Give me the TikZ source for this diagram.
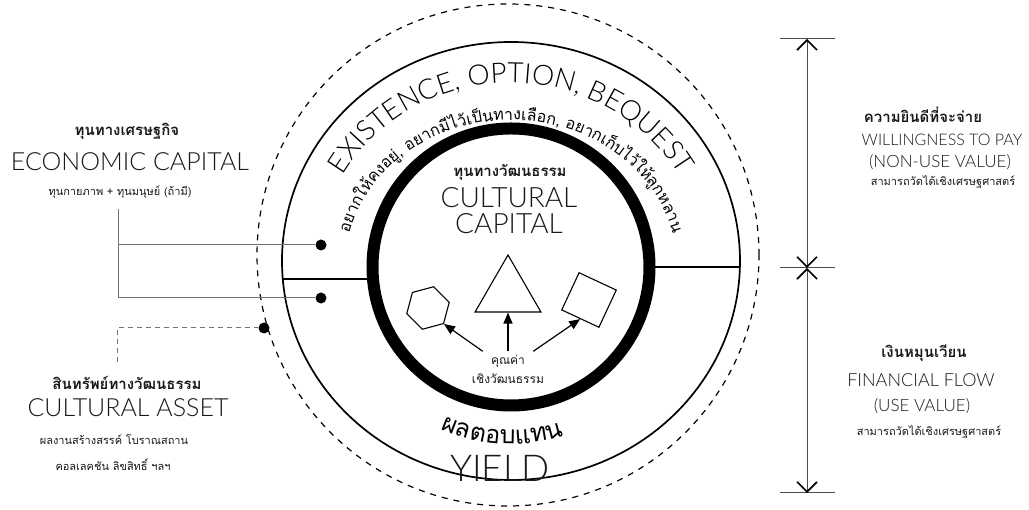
\documentclass[tikz,border=0pt]{standalone}
\usepackage{fontspec}
\setmainfont{Lato Light}
\newfontfamily\thaifont[Script=Thai]{Loma}
\usetikzlibrary{arrows.meta,shapes.geometric,decorations.text}

\tikzset{
  thead/.style={font=\thaifont\bfseries\fontsize{15}{18}\selectfont},
  tnote/.style={font=\thaifont\fontsize{11}{14}\selectfont},
  capbig/.style={font=\fontsize{25}{28}\selectfont},
  capmid/.style={font=\fontsize{17}{21}\selectfont},
  dot/.style={circle,fill,inner sep=0,minimum size=11},
  feed/.style={draw=black!55,line width=1},
  valarrow/.style={-{Triangle[length=11pt,width=9pt]},line width=1.2},
  figure/.style={draw,regular polygon,inner sep=0,line width=1.1},
  arctext/.style={decorate,decoration={text along path,text align=center,text={#1}}}
}

\begin{document}
\begin{tikzpicture}[x=1pt,y=1pt,>={Straight Barb[length=10pt,width=20pt,line width=1.6pt,color=black]},text=black!90]
\useasboundingbox (0,0) rectangle (1029,510);

% rings
\node[circle,draw,dashed,dash pattern=on 6pt off 6pt,line width=1.2,minimum size=502,inner sep=0,outer sep=0] (halo) at (508,255) {};
\node[ellipse,draw,line width=1.7,minimum width=458,minimum height=438,inner sep=0,outer sep=0] (ring) at (511,249) {};
\node[circle,draw,line width=12,minimum size=277,inner sep=0,outer sep=0] (core) at (511,243) {};
\draw[line width=1.7] (core.185) -- (core.185 -| ring.west);
\draw[line width=1.7] (core.east) -- (core.east -| ring.east);

% texts on the arcs
\path[arctext={|\fontsize{28}{30}\selectfont|EXISTENCE, OPTION, BEQUEST}]
  (core.center) ++(160:{194 and 184}) arc[start angle=160,end angle=20,x radius=194,y radius=184];
\path[arctext={|\thaifont\fontsize{16}{18}\selectfont|อยากใ{ห้}คงอ{ยู่}, อยาก{มี}ไ{ว้}เ{ป็}นทางเ{ลื}อก, อยากเ{ก็}บไ{ว้}ใ{ห้}{ลู}กหลาน}]
  (core.center) ++(190:{166 and 147}) arc[start angle=190,end angle=-10,x radius=166,y radius=147];
\path[arctext={|\thaifont\fontsize{25}{30}\selectfont|ผลตอบแทน}]
  (core.center) ++(217:177) arc[start angle=217,end angle=317,radius=177];
\node[font=\fontsize{37}{40}\selectfont] (yield) at (500,42) {YIELD};

% inside the core
\node[thead] (ccth) at (510,338) {ทุนทางวัฒนธรรม};
\node[align=center,font=\fontsize{28}{26}\selectfont] (cc) at (509,299) {CULTURAL\\CAPITAL};
\node[figure,regular polygon sides=3,minimum size=76] (tri) at (508,217) {};
\node[figure,regular polygon sides=6,minimum size=44,rotate=15] (hexa) at (428,202) {};
\node[figure,regular polygon sides=4,minimum size=58,rotate=-25] (sq) at (589,210) {};
\node[align=center,font=\thaifont\fontsize{12}{19}\selectfont] (valuelbl) at (508,141) {คุณค่า\\เชิงวัฒนธรรม};
\draw[valarrow] (valuelbl.north) -- (tri.south);
\draw[valarrow] (valuelbl.145) -- (hexa.300);
\draw[valarrow] (valuelbl.35) -- (sq.south);

% left side
\node[thead] (econth) at (127,379) {ทุนทางเศรษฐกิจ};
\node[capbig] (econ) at (130,348) {ECONOMIC CAPITAL};
\node[tnote] (econsub) at (120,318) {ทุนกายภาพ + ทุนมนุษย์ (ถ้ามี)};
\coordinate (econroot) at (118,301);
\node[dot] (d1) at (321,265) {};
\node[dot] (d2) at (321,212) {};
\draw[feed] (econroot) |- (d1);
\draw[feed] (econroot) |- (d2);

\node[thead] (assetth) at (127,127) {สินทรัพย์ทางวัฒนธรรม};
\node[capbig] (asset) at (128,102) {CULTURAL ASSET};
\node[tnote] (assetsub1) at (114,70) {ผลงานสร้างสรรค์ โบราณสถาน};
\node[tnote] (assetsub2) at (113,45) {คอลเลคชัน ลิขสิทธิ์ ฯลฯ};
\coordinate (assetroot) at (117,148);
\node[dot] (d3) at (264,182) {};
\draw[feed,dash pattern=on 5pt off 4pt] (assetroot) |- (d3);

% right side: value scale
\coordinate (dtop) at (807,471);
\coordinate (dmid) at (807,242);
\coordinate (dbot) at (807,17);
\foreach \p in {dtop,dmid,dbot}
  \draw[black!70,line width=1] ([xshift=-27]\p) -- ([xshift=28]\p);
\draw[<->,black!70,line width=1] (dtop) -- (dmid);
\draw[<->,black!70,line width=1] (dmid) -- (dbot);

\node[thead] (wtpth) at (923,395) {ความยินดีที่จะจ่าย};
\node[capmid,font=\fontsize{16}{20}\selectfont] (wtp) at (942,370) {WILLINGNESS TO PAY};
\node[capmid] (nonuse) at (940,348) {(NON-USE VALUE)};
\node[tnote] (wtpsub) at (943,328) {สามารถวัดได้เชิงเศรษฐศาสตร์};

\node[thead] (ffth) at (924,157) {เงินหมุนเวียน};
\node[capmid,font=\fontsize{18}{21}\selectfont] (ff) at (921,130) {FINANCIAL FLOW};
\node[capmid] (use) at (922,104) {(USE VALUE)};
\node[tnote] (ffsub) at (929,78) {สามารถวัดได้เชิงเศรษฐศาสตร์};
\end{tikzpicture}
\end{document}
